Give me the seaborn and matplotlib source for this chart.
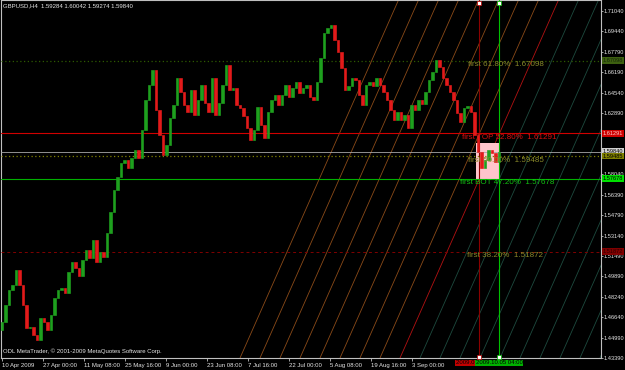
import matplotlib
matplotlib.use("Agg")
import matplotlib.pyplot as plt
import seaborn as sns
import numpy as np
import pandas as pd
from matplotlib.patches import Rectangle

# ---------------- data ----------------
symbol_title = "GBPUSD,H4"
last_ohlc = [1.59284, 1.60042, 1.59274, 1.59840]
first_open = 1.4560
closes = [
    1.4625, 1.4761, 1.4880, 1.4920, 1.5040, 1.4920, 1.4761, 1.4578, 1.4586, 1.4522,
    1.4482, 1.4657, 1.4625, 1.4562, 1.4681, 1.4817, 1.4880, 1.4896, 1.4857, 1.5024,
    1.5104, 1.5056, 1.4992, 1.5120, 1.5199, 1.5135, 1.5279, 1.5104, 1.5183, 1.5143,
    1.5335, 1.5502, 1.5677, 1.5781, 1.5893, 1.5917, 1.5853, 1.5932, 1.5996, 1.5932,
    1.6156, 1.6395, 1.6514, 1.6634, 1.6315, 1.6116, 1.5956, 1.6036, 1.6251, 1.6355,
    1.6570, 1.6458, 1.6355, 1.6299, 1.6474, 1.6275, 1.6395, 1.6514, 1.6371, 1.6299,
    1.6570, 1.6275, 1.6371, 1.6514, 1.6674, 1.6474, 1.6490, 1.6355, 1.6331, 1.6267,
    1.6172, 1.6076, 1.6156, 1.6339, 1.6195, 1.6092, 1.6299, 1.6395, 1.6435, 1.6355,
    1.6435, 1.6514, 1.6419, 1.6490, 1.6538, 1.6450, 1.6490, 1.6514, 1.6419, 1.6395,
    1.6538, 1.6729, 1.6929, 1.6969, 1.6992, 1.6873, 1.6777, 1.6650, 1.6474, 1.6506,
    1.6570, 1.6554, 1.6435, 1.6355, 1.6514, 1.6538, 1.6506, 1.6570, 1.6514, 1.6458,
    1.6395, 1.6315, 1.6235, 1.6299, 1.6235, 1.6275, 1.6172, 1.6355, 1.6315, 1.6395,
    1.6363, 1.6458, 1.6554, 1.6618, 1.6714, 1.6658, 1.6570, 1.6514, 1.6458, 1.6395,
    1.6291, 1.6219, 1.6331, 1.6347, 1.6299, 1.6116, 1.5980, 1.5853, 1.5917, 1.5996,
    1.5972, 1.5901, 1.5984,
]
price_ticks = [1.71040, 1.69440, 1.67790, 1.66190, 1.64540, 1.62890, 1.61290,
               1.59640, 1.58040, 1.56390, 1.54790, 1.53140, 1.51490, 1.49890,
               1.48240, 1.46640, 1.44990, 1.43390]
hidden_ticks = [1.61290, 1.59640]   # covered by price boxes in the reference
time_labels = ["10 Apr 2009", "27 Apr 00:00", "11 May 08:00", "25 May 16:00",
               "9 Jun 00:00", "23 Jun 08:00", "7 Jul 16:00", "22 Jul 00:00",
               "5 Aug 08:00", "19 Aug 16:00", "3 Sep 00:00"]
time_label_step = 11.7          # bars between axis labels
level_names = ["first 61.80%", "first TOP 52.80%", "first 50.00%",
               "first BOT 47.20%", "first 38.20%"]
level_prices = [1.67098, 1.61291, 1.59485, 1.57678, 1.51872]
current_price = 1.59840
zone_top = 1.6052
marker_labels = ["2009.09.30 20:00", "2009.10.05 04:00"]

# ---------------- style ----------------
sns.set_theme(style="dark")
plt.rcParams["font.family"] = ["Liberation Sans", "DejaVu Sans"]
FS = 4.3
FS_AX = 4.1
FS_LVL = 5.8
up_col, dn_col = "#1ea01e", "#e31a1a"

fig = plt.figure(figsize=(6.25, 3.70), dpi=100, facecolor="black")
ax = fig.add_axes([1 / 625, 12 / 370, 600 / 625, 358 / 370])
ax.set_facecolor("black")
ax.set_xlim(-0.29, 171.14)
ax.set_ylim(1.4339, 1.7192)
ax.grid(False)
for s in ax.spines.values():
    s.set_color("#bfbfbf")
    s.set_linewidth(0.8)

# ---------------- Gann-like grid ----------------
grid_first_bar, grid_step, grid_slope, grid_count = 68.0, 5.714, 0.0063, 19
y0, y1 = ax.get_ylim()
for k in range(grid_count):
    xb = grid_first_bar + grid_step * k
    xt = xb + (y1 - y0) / grid_slope
    col = "#8a4a18" if k < 8 else ("#b31212" if k == 8 else "#1d4a3e")
    ax.plot([xb, xt], [y0, y1], color=col, lw=0.6, zorder=1)

# ---------------- zone & vertical lines ----------------
red_bar, green_bar = 136.3, 142.0
ax.add_patch(Rectangle((135.4, level_prices[3]), green_bar - 135.4,
                       zone_top - level_prices[3], facecolor="#ffc4cc",
                       edgecolor="none", zorder=2))
ax.axvline(red_bar, color="#8b0000", lw=0.8, zorder=3)
ax.axvline(green_bar, color="#00c000", lw=0.8, zorder=3)
for xb, ec in [(red_bar, "#c00000"), (green_bar, "#00c000")]:
    ax.plot([xb, xb], [y0 + 0.0006, y1 - 0.0020], ls="none", marker="s", ms=2.2,
            mfc="white", mec=ec, mew=0.5, zorder=6, clip_on=False)

# ---------------- horizontal levels ----------------
ax.axhline(level_prices[0], color="#2d5a00", lw=0.9, ls=(0, (1, 2)), zorder=3)
ax.axhline(level_prices[1], color="#d00000", lw=0.8, zorder=3)
ax.axhline(current_price, color="#a8a8a8", lw=0.6, zorder=3)
ax.axhline(level_prices[2], color="#808000", lw=0.9, ls=(0, (1, 2)), zorder=3)
ax.axhline(level_prices[3], color="#00b000", lw=0.8, zorder=3)
ax.axhline(level_prices[4], color="#800000", lw=0.7, ls=(0, (3, 3)), zorder=3)

# ---------------- candles ----------------
n = len(closes)
df = pd.DataFrame({"bar": np.arange(n), "open": [first_open] + closes[:-1],
                   "close": closes})
df["up"] = df["close"] >= df["open"]
cols = np.where(df["up"], up_col, dn_col)
ax.bar(df["bar"], df["close"] - df["open"], bottom=df["open"], width=0.62,
       color=cols, edgecolor=cols, linewidth=0.45, zorder=4)

# ---------------- level texts ----------------
text_bars = [133.1, 131.4, 133.1, 130.9, 132.9]
text_cols = ["#8a8a2a", "#d81010", "#8a8a2a", "#12c412", "#8a8a2a"]
for nm, pr, xb, c in zip(level_names, level_prices, text_bars, text_cols):
    ax.annotate(f"{nm}  {pr:.5f}", (xb, pr), xytext=(0, -0.4),
                textcoords="offset points", va="top", ha="left",
                fontsize=FS_LVL, color=c, zorder=5)

# ---------------- price axis ----------------
ax.yaxis.tick_right()
ax.set_yticks(price_ticks, ["" if p in hidden_ticks else f"{p:.5f}"
                            for p in price_ticks])
ax.tick_params(axis="y", colors="#bfbfbf", labelcolor="#e6e6e6",
               labelsize=FS_AX, length=1.5, width=0.6, pad=0.5, right=True,
               left=False)
box_specs = [
    (level_prices[0], "#3d6010", "#16260a"),
    (level_prices[1], "#d00000", "#ffc8c8"),
    (current_price, "#d0d0d0", "#000000"),
    (level_prices[2], "#808000", "#000000"),
    (level_prices[3], "#00e000", "#000000"),
    (level_prices[4], "#800000", "#2a0000"),
]
for pr, bg, fg in box_specs:
    ax.annotate(f"{pr:.5f}", (1.0, pr), xycoords=("axes fraction", "data"),
                xytext=(1.5, 0), textcoords="offset points", va="center",
                ha="left", fontsize=FS_AX, color=fg, zorder=7,
                annotation_clip=False,
                bbox=dict(boxstyle="square,pad=0.15", fc=bg, ec="none"))

# ---------------- time axis ----------------
ax.set_xticks([time_label_step * i for i in range(len(time_labels))], time_labels)
ax.tick_params(axis="x", colors="#bfbfbf", labelcolor="#e6e6e6", labelsize=FS,
               length=2.5, width=0.6, pad=1.2, bottom=True)
for lab in ax.get_xticklabels():
    lab.set_ha("left")
for xb, lab, bg in [(red_bar, marker_labels[0], "#c00000"),
                    (green_bar, marker_labels[1], "#00b000")]:
    ax.annotate(lab, (xb, 0), xycoords=("data", "axes fraction"),
                xytext=(0, -3.6), textcoords="offset points", va="center",
                ha="center", fontsize=FS, color="#000000", zorder=8,
                annotation_clip=False,
                bbox=dict(boxstyle="square,pad=0.15", fc=bg, ec="none"))

# ---------------- header / footer texts ----------------
fig.text(3 / 625, 1 - 6 / 370,
         f"{symbol_title}  " + " ".join(f"{v:.5f}" for v in last_ohlc),
         fontsize=FS, color="#e6e6e6", va="center", ha="left")
ax.text(0.004, 0.01, "ODL MetaTrader, © 2001-2009 MetaQuotes Software Corp.",
        transform=ax.transAxes, fontsize=FS, color="#e6e6e6", va="bottom",
        ha="left", zorder=8)

fig.savefig("out.png", dpi=100, facecolor="black")
